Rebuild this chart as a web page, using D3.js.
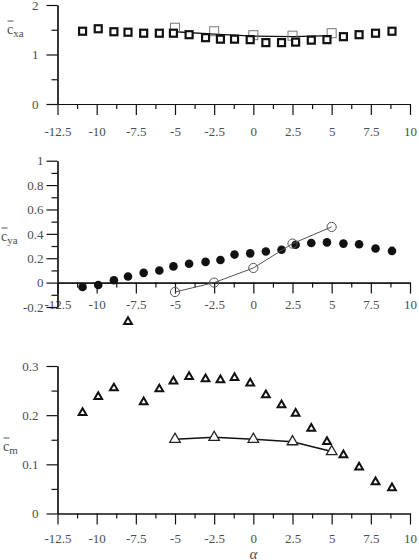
<!DOCTYPE html>
<html>
<head>
<meta charset="utf-8">
<script src="https://cdn.jsdelivr.net/npm/d3@7"></script>
<style>
  body { margin: 0; background: #fff; }
  svg { display: block; }
</style>
</head>
<body>
<div id="chart"></div>
<script>
// angle of attack, shared by the three measured series
var alpha = [-10.9, -9.9, -8.9, -8.0, -7.0, -6.0, -5.1, -4.1, -3.05, -2.1, -1.2,
  -0.2, 0.8, 1.8, 2.7, 3.7, 4.7, 5.75, 6.75, 7.8, 8.85];
// computed points
var alphaCalc = [-5, -2.5, 0, 2.5, 5];

// c_xa
var cxaMeas = [1.47, 1.52, 1.46, 1.45, 1.43, 1.43, 1.43, 1.40, 1.34, 1.31, 1.31,
  1.30, 1.24, 1.24, 1.25, 1.29, 1.30, 1.36, 1.40, 1.43, 1.47];
var cxaCalcPts = [1.54, 1.47, 1.39, 1.38, 1.43];
var cxaCalcLine = [1.46, 1.41, 1.37, 1.36, 1.38];

// c_ya
var cyaMeas = [-0.036, -0.02, 0.02, 0.05, 0.08, 0.10, 0.133, 0.155, 0.17, 0.185, 0.23,
  0.24, 0.255, 0.27, 0.31, 0.325, 0.33, 0.32, 0.315, 0.28, 0.26];
var cyaCalc = [-0.077, 0.0, 0.12, 0.32, 0.457];

// c_m
var cmMeas = [0.205, 0.2375, 0.255, 0.39, 0.227, 0.253, 0.269, 0.278, 0.2735, 0.2715, 0.276,
  0.265, 0.241, 0.2205, 0.2035, 0.173, 0.146, 0.119, 0.094, 0.064, 0.052];
var cmCalc = [0.151, 0.155, 0.151, 0.146, 0.126];

// axis ticks
var xMajor = [-12.5, -10, -7.5, -5, -2.5, 0, 2.5, 5, 7.5, 10];
var xMinor = [-11.25, -8.75, -6.25, -3.75, -1.25, 1.25, 3.75, 6.25, 8.75];
var cxaMajor = [0, 1, 2], cxaMinor = [0.5, 1.5];
var cyaMajor = [-0.2, 0, 0.2, 0.4, 0.6, 0.8, 1];
var cyaMinor = [-0.1, 0.1, 0.3, 0.5, 0.7, 0.9];
var cmMajor = [0, 0.1, 0.2, 0.3], cmMinor = [0.05, 0.15, 0.25];

var width = 419, height = 560;
var FONT = "'Liberation Serif', 'DejaVu Serif', serif";
var TXT = "#4d4d4d";

var svg = d3.select("#chart").append("svg")
  .attr("width", width)
  .attr("height", height);

var x = d3.scaleLinear().domain([-12.5, 10]).range([57.5, 410]);

var y1 = d3.scaleLinear().domain([0, 2]).range([104, 5]);
var y2 = d3.scaleLinear().domain([-0.2, 1]).range([307, 160.7]);
var y3 = d3.scaleLinear().domain([0, 0.3]).range([513.5, 366]);

function styleAxis(g) {
  g.attr("font-family", FONT).attr("font-size", 13);
  g.selectAll(".domain").attr("stroke", "#111").attr("stroke-width", 1.2).attr("fill", "none");
  g.selectAll(".tick line").attr("stroke", "#111").attr("stroke-width", 1.2);
  g.selectAll(".tick text").attr("fill", TXT).style("font-family", FONT).style("font-size", "13px");
}

// draw x and y axes for one panel
function drawAxes(y, yMajor, yMinor, xPad, yPad) {
  var yZero = y(0);
  svg.append("g")
    .attr("transform", "translate(0," + yZero + ")")
    .call(d3.axisBottom(x).tickValues(xMinor).tickSize(5).tickSizeOuter(0).tickFormat(""))
    .call(styleAxis);
  svg.append("g")
    .attr("transform", "translate(0," + yZero + ")")
    .call(d3.axisBottom(x).tickValues(xMajor).tickSize(11).tickSizeOuter(0)
      .tickPadding(xPad).tickFormat(function (d) { return String(d); }))
    .call(styleAxis);

  svg.append("g")
    .attr("transform", "translate(" + x(-12.5) + ",0)")
    .call(d3.axisLeft(y).tickValues(yMinor).tickSize(6).tickSizeOuter(0).tickFormat(""))
    .call(styleAxis);
  svg.append("g")
    .attr("transform", "translate(" + x(-12.5) + ",0)")
    .call(d3.axisLeft(y).tickValues(yMajor).tickSize(11).tickSizeOuter(0)
      .tickPadding(yPad).tickFormat(function (d) { return String(d); }))
    .call(styleAxis);
}

drawAxes(y1, cxaMajor, cxaMinor, 12, 8);
drawAxes(y2, cyaMajor, cyaMinor, 6, 3);
drawAxes(y3, cmMajor, cmMinor, 9, 8);

// y axis labels: c with a bar and a subscript
function yLabel(px, py, sub) {
  var t = svg.append("text")
    .attr("x", px).attr("y", py)
    .attr("fill", TXT)
    .style("font-family", FONT)
    .style("font-size", "14px");
  t.append("tspan").text("c");
  t.append("tspan").attr("dy", 3).style("font-size", "11px").text(sub);
  svg.append("line")
    .attr("x1", px + 0.5).attr("x2", px + 6.5)
    .attr("y1", py - 13).attr("y2", py - 13)
    .attr("stroke", "#555").attr("stroke-width", 1);
}
yLabel(7, 34, "xa");
yLabel(1, 241, "ya");
yLabel(3, 451, "m");

svg.append("text")
  .attr("x", x(0)).attr("y", 559)
  .attr("text-anchor", "middle")
  .attr("fill", TXT)
  .style("font-family", FONT)
  .style("font-size", "15px").style("font-style", "italic")
  .text("α");

var lineGen = function (y) {
  return d3.line().x(function (d) { return x(d[0]); }).y(function (d) { return y(d[1]); });
};

// panel 1: c_xa
svg.append("path")
  .datum(d3.zip(alphaCalc, cxaCalcLine))
  .attr("d", lineGen(y1))
  .attr("fill", "none").attr("stroke", "#111").attr("stroke-width", 1.3);

svg.append("g").selectAll("rect")
  .data(d3.zip(alphaCalc, cxaCalcPts))
  .join("rect")
  .attr("x", function (d) { return x(d[0]) - 4.5; })
  .attr("y", function (d) { return y1(d[1]) - 4.5; })
  .attr("width", 9).attr("height", 9)
  .attr("fill", "none").attr("stroke", "#777").attr("stroke-width", 1);

svg.append("g").selectAll("rect")
  .data(d3.zip(alpha, cxaMeas))
  .join("rect")
  .attr("x", function (d) { return x(d[0]) - 3.5; })
  .attr("y", function (d) { return y1(d[1]) - 3.5; })
  .attr("width", 7).attr("height", 7)
  .attr("fill", "#fff").attr("stroke", "#111").attr("stroke-width", 2.2);

// panel 2: c_ya
svg.append("g").selectAll("circle")
  .data(d3.zip(alpha, cyaMeas))
  .join("circle")
  .attr("cx", function (d) { return x(d[0]); })
  .attr("cy", function (d) { return y2(d[1]); })
  .attr("r", 4.3)
  .attr("fill", "#111");

svg.append("path")
  .datum(d3.zip(alphaCalc, cyaCalc))
  .attr("d", lineGen(y2))
  .attr("fill", "none").attr("stroke", "#555").attr("stroke-width", 1);

svg.append("g").selectAll("circle")
  .data(d3.zip(alphaCalc, cyaCalc))
  .join("circle")
  .attr("cx", function (d) { return x(d[0]); })
  .attr("cy", function (d) { return y2(d[1]); })
  .attr("r", 4.6)
  .attr("fill", "none").attr("stroke", "#555").attr("stroke-width", 1);

// panel 3: c_m
var tri = d3.symbol().type(d3.symbolTriangle);

svg.append("g").selectAll("path")
  .data(d3.zip(alpha, cmMeas))
  .join("path")
  .attr("d", tri.size(26))
  .attr("transform", function (d) { return "translate(" + x(d[0]) + "," + y3(d[1]) + ")"; })
  .attr("fill", "#fff").attr("stroke", "#111").attr("stroke-width", 2);

svg.append("path")
  .datum(d3.zip(alphaCalc, cmCalc))
  .attr("d", lineGen(y3))
  .attr("fill", "none").attr("stroke", "#111").attr("stroke-width", 1.4);

svg.append("g").selectAll("path")
  .data(d3.zip(alphaCalc, cmCalc))
  .join("path")
  .attr("d", tri.size(48))
  .attr("transform", function (d) { return "translate(" + x(d[0]) + "," + y3(d[1]) + ")"; })
  .attr("fill", "#fff").attr("stroke", "#222").attr("stroke-width", 1.3);
</script>
</body>
</html>
